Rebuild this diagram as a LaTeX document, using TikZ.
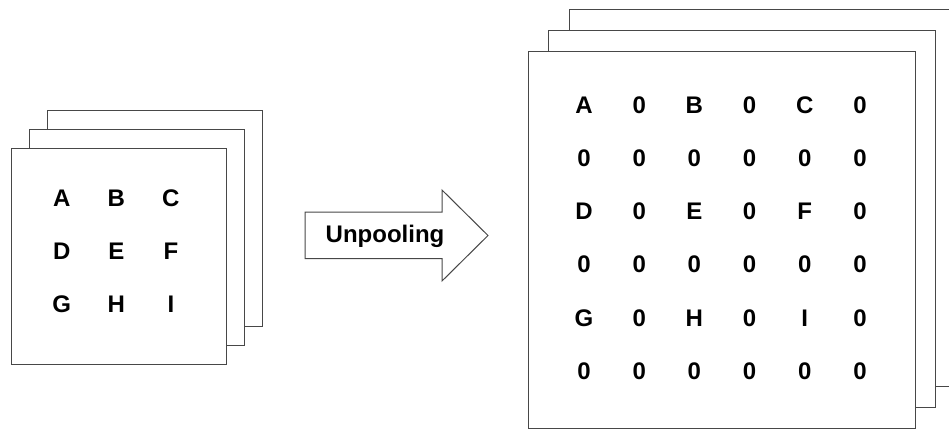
\documentclass[tikz,border=0pt]{standalone}
\usepackage{fontspec}
\setmainfont{Liberation Sans}
\usetikzlibrary{positioning}

\begin{document}
\begin{tikzpicture}[
  x=1pt, y=-1pt,
  sheet/.style={draw=black!72, fill=white, line width=1pt},
  cell/.style={font=\fontsize{24}{28}\selectfont\bfseries, inner sep=0pt}
]
\useasboundingbox (0,0) rectangle (949,429);

% Input feature maps (3x3)
\foreach \k in {2,1,0}
  \draw[sheet] ({11+18.3*\k},{148-18.8*\k}) rectangle ++(215,216);
\foreach \t [count=\i from 0] in {A,B,C,D,E,F,G,H,I}
  \node[cell] (in-\t) at ({61.7+54.6*mod(\i,3)},{198+53*div(\i,3)}) {\t};

% Unpooling arrow
\draw[sheet] (305,212) -- (442,212) -- (442,190) -- (488,235.5)
  -- (442,281) -- (442,258.5) -- (305,258.5) -- cycle;
\node[cell] (unpool) at (385,236) {Unpooling};

% Output feature maps (6x6)
\foreach \k in {2,1,0}
  \draw[sheet] ({528+20.8*\k},{51-21*\k}) rectangle ++(387,377);
\foreach \row [count=\r from 0] in {{A,0,B,0,C,0},{0,0,0,0,0,0},{D,0,E,0,F,0},
    {0,0,0,0,0,0},{G,0,H,0,I,0},{0,0,0,0,0,0}}
  \foreach \t [count=\c from 0] in \row
    \node[cell] (out-\r-\c) at ({584+55.2*\c},{105+53.2*\r}) {\t};

\end{tikzpicture}
\end{document}
